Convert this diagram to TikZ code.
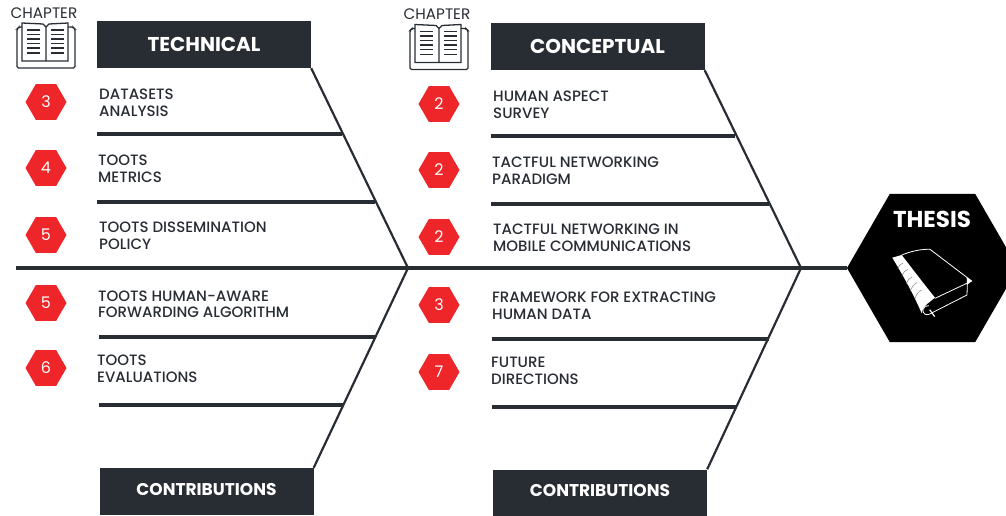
\documentclass[tikz,border=0pt]{standalone}
\usepackage{fontspec}
\setmainfont{Poppins}[UprightFont = * Medium, BoldFont = * Bold]
\newfontfamily\numfont{Poppins}
\usetikzlibrary{shapes.geometric}
\definecolor{slate}{HTML}{282C33}
\definecolor{hexred}{HTML}{EE2529}
\tikzset{
  headbox/.style = {fill = slate, text = white, minimum width = 214pt, minimum height = 47pt, inner sep = 0pt, font = \fontsize{20}{22}\selectfont\bfseries},
  footbox/.style = {headbox, text depth = 5pt, font = \fontsize{17}{20}\selectfont\bfseries},
  hexnum/.style = {regular polygon, regular polygon sides = 6, fill = hexred, text = white, minimum size = 41pt, inner sep = 0pt, font = \fontsize{16}{18}\selectfont\numfont},
  topic/.style = {anchor = west, align = left, inner sep = 0pt, text = slate, font = \fontsize{15}{16.5}\selectfont},
  chap/.style = {text = slate, inner sep = 0pt, font = \fontsize{15.2}{16}\selectfont\numfont},
  rib/.style = {slate, line width = 3.2pt},
  bone/.style = {slate, line width = 2.2pt},
  chapterbook/.pic = {
    \draw[slate, line width = 1.3pt, rounded corners = 1.5pt] (-24, -18) -- (-27, -18) -- (-29, -16) -- (-29, 23) -- (29, 23) -- (29, -16) -- (27, -18) -- (22, -18);
    \draw[slate, line width = 1.3pt] (0, -18) -- (-3, -21) -- (-24, -22) -- (-24, 16) -- (0, 16) -- (0, -18) -- (3, -21) -- (22, -22) -- (22, 16) -- (0, 16);
    \draw[slate, line width = 1.3pt] (-19, -15) -- (-6, -15) (-19, -10.5) -- (-6, -10.5) (-19, -6) -- (-6, -6) (-19, -1.5) -- (-6, -1.5) (-19, 3) -- (-6, 3) (-19, 8) -- (-6, 8);
    \draw[slate, line width = 1.3pt] (5, -15) -- (18, -15) (5, -10.5) -- (18, -10.5) (5, -6) -- (18, -6) (5, -1.5) -- (18, -1.5) (5, 3) -- (18, 3) (5, 8) -- (18, 8);
  },
  thesisbook/.pic = {
    \draw[white, line width = 0.8pt] (50, 30) .. controls (80, 18) and (110, 12) .. (135, 13) -- (260, 108) -- (150, 160);
    \draw[white, line width = 0.8pt] (247, 118) -- (246, 150) -- (132, 208) .. controls (122, 212) and (112, 205) .. (114, 193) .. controls (116, 186) and (124, 180) .. (132, 182);
    \fill[white] (260, 108) -- (245, 96) -- (246, 120) -- cycle;
    \fill[white] (22, 38) -- (50, 30) .. controls (85, 75) and (115, 115) .. (150, 158) -- (125, 178) .. controls (117, 184) and (112, 192) .. (110, 205) .. controls (85, 145) and (50, 85) .. (22, 38) -- cycle;
    \draw[gray, line width = 0.5pt] (38, 72) .. controls (42, 62) and (48, 56) .. (54, 54) (50, 94) .. controls (54, 84) and (60, 76) .. (68, 73) (64, 116) .. controls (68, 106) and (74, 98) .. (82, 95) (76, 138) .. controls (80, 126) and (88, 116) .. (96, 113) (90, 160) .. controls (94, 148) and (102, 138) .. (110, 135);
    \draw[white, line width = 1.2pt] (134, 194) -- (149, 215);
  }
}

\begin{document}
\begin{tikzpicture}[x = 1pt, y = -1pt]
\path[use as bounding box, clip] (0, 0) rectangle (1006, 516);

\node (techhead) at (204, 44.5) [headbox] {TECHNICAL};
\node (conchead) at (597.5, 46.5) [headbox] {CONCEPTUAL};
\node (techfoot) at (206.5, 491.5) [footbox] {CONTRIBUTIONS};
\node (concfoot) at (600, 493) [footbox] {CONTRIBUTIONS};
\node (thesis) at (932.5, 268) [regular polygon, regular polygon sides = 6, fill = black, minimum size = 171pt, inner sep = 0pt] {};
\node (thesistitle) at (932, 219.5) [text = white, inner sep = 0pt, font = \fontsize{23}{25}\selectfont\bfseries] {THESIS};

\coordinate (techhub) at (408, 268);
\coordinate (conchub) at (801, 268);
\coordinate (spinestart) at (16, 268);

\coordinate (ta) at (97, 134);
\coordinate (tb) at (97, 202);
\coordinate (tc) at (99, 337);
\coordinate (td) at (99, 405);
\coordinate (tae) at (342, 134);
\coordinate (tbe) at (375, 202);
\coordinate (tce) at (375, 337);
\coordinate (tde) at (343, 405);
\coordinate (ca) at (491, 136);
\coordinate (cb) at (491, 204);
\coordinate (cc) at (492, 339);
\coordinate (cd) at (492, 407);
\coordinate (cae) at (735, 136);
\coordinate (cbe) at (769, 204);
\coordinate (cce) at (769, 339);
\coordinate (cde) at (736, 407);

\draw[rib] (spinestart) -- (techhub) -- (conchub) -- (thesis);
\draw[bone] (techhead.south east) -- (techhub) -- (techfoot.north east);
\draw[bone] (conchead.south east) -- (conchub) -- (concfoot.north east);

\draw[rib] (ta) -- (tae);
\draw[rib] (tb) -- (tbe);
\draw[rib] (tc) -- (tce);
\draw[rib] (td) -- (tde);
\draw[rib] (ca) -- (cae);
\draw[rib] (cb) -- (cbe);
\draw[rib] (cc) -- (cce);
\draw[rib] (cd) -- (cde);

\node (techchap) at (44, 13) [chap] {CHAPTER};
\node (concchap) at (437, 14.5) [chap] {CHAPTER};
\pic at (46, 45) {chapterbook};
\pic at (439, 46.5) {chapterbook};
\pic[scale = 1/3] at (885, 245) {thesisbook};

\node (na) at (46, 102) [hexnum] {3};
\node (nb) at (46, 168) [hexnum] {4};
\node (nc) at (46, 235) [hexnum] {5};
\node (nd) at (46, 303) [hexnum] {5};
\node (ne) at (46, 368) [hexnum] {6};
\node (nf) at (439, 104) [hexnum] {2};
\node (ng) at (439, 170) [hexnum] {2};
\node (nh) at (439, 237) [hexnum] {2};
\node (ni) at (439, 305) [hexnum] {3};
\node (nj) at (439, 372) [hexnum] {7};

\node (la) at (99, 103) [topic] {DATASETS\\ANALYSIS};
\node (lb) at (98, 169) [topic] {TOOTS\\METRICS};
\node (lc) at (99, 236) [topic] {TOOTS DISSEMINATION\\POLICY};
\node (ld) at (98, 304.5) [topic] {TOOTS HUMAN-AWARE\\FORWARDING ALGORITHM};
\node (le) at (97, 369) [topic] {TOOTS\\EVALUATIONS};
\node (lf) at (493, 105) [topic] {HUMAN ASPECT\\SURVEY};
\node (lg) at (492, 171) [topic] {TACTFUL NETWORKING\\PARADIGM};
\node (lh) at (493, 238) [topic] {TACTFUL NETWORKING IN\\MOBILE COMMUNICATIONS};
\node (li) at (492, 306) [topic] {FRAMEWORK FOR EXTRACTING\\HUMAN DATA};
\node (lj) at (491, 371) [topic] {FUTURE\\DIRECTIONS};

\end{tikzpicture}
\end{document}
